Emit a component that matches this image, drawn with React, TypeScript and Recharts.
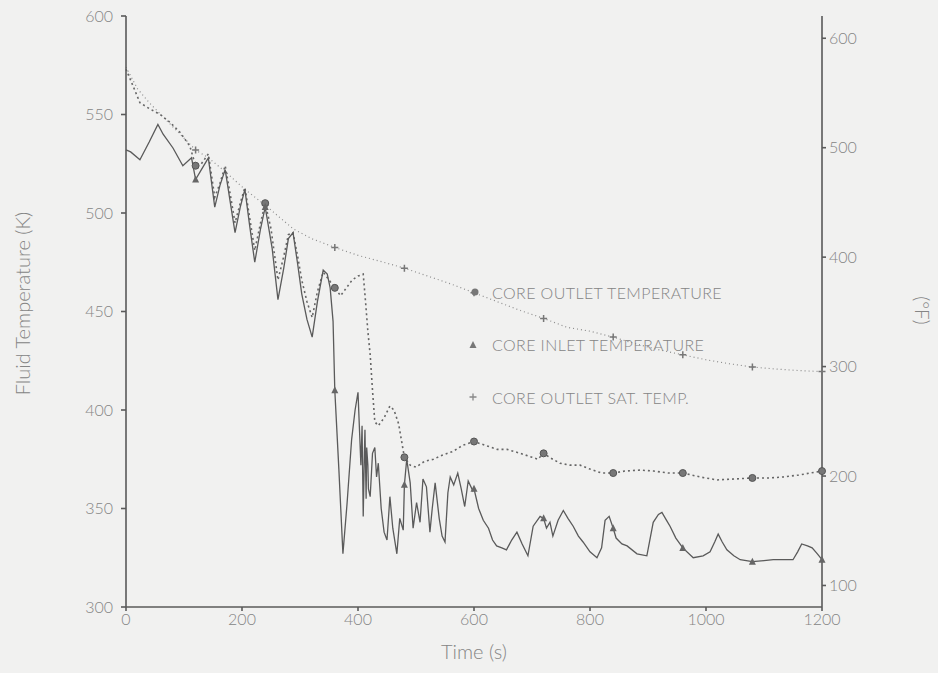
import React from 'react'
import { LineChart, Line, XAxis, YAxis } from 'recharts'

// Core inlet temperature (K) vs time (s)
const inletTime = [
  0, 8, 24, 40, 55, 64, 81, 98, 113, 120, 130, 142, 153, 162, 171, 180, 188, 197, 205, 213, 222, 232,
  240, 252, 262, 272, 280, 288, 296, 303, 312, 321, 330, 340, 347, 352, 357, 360, 367, 374, 381, 389,
  395, 400, 405, 407, 409, 411, 412, 414, 415, 417, 418, 421, 425, 429, 432, 435, 440, 445, 450, 455,
  460, 467, 472, 478, 480, 484, 490, 495, 501, 507, 512, 518, 524, 528, 533, 540, 545, 550, 555, 559,
  565, 572, 578, 584, 590, 598, 600, 608, 616, 625, 632, 639, 648, 656, 665, 674, 683, 693, 702, 714,
  720, 725, 731, 736, 745, 754, 762, 771, 780, 788, 800, 812, 820, 826, 833, 840, 845, 855, 864, 881,
  898, 909, 918, 924, 932, 938, 948, 960, 978, 995, 1007, 1015, 1021, 1028, 1036, 1048, 1059, 1080,
  1100, 1116, 1135, 1150, 1158, 1165, 1175, 1183, 1192, 1200,
]
const inletTemp = [
  532, 531, 527, 536, 545, 540, 533, 524, 528, 517, 522, 528, 503, 514, 522, 505, 490, 503, 512, 494, 475, 492,
  503, 482, 456, 472, 487, 490, 474, 459, 446, 437, 455, 471, 469, 462, 445, 410, 370, 327, 352, 385,
  400, 409, 372, 392, 346, 378, 390, 355, 381, 372, 360, 356, 378, 381, 366, 373, 350, 338, 334, 356,
  340, 327, 345, 339, 362, 375, 363, 340, 353, 343, 365, 361, 338, 350, 363, 345, 336, 333, 358, 366,
  362, 368, 360, 351, 364, 359, 360, 350, 344, 340, 334, 331, 330, 329, 334, 338, 332, 326, 341, 346,
  345, 340, 343, 336, 344, 349, 345, 341, 336, 333, 328, 325, 330, 344, 346, 340, 335, 332, 331, 327,
  326, 343, 347, 348, 344, 341, 335, 330, 325, 326, 328, 333, 337, 333, 329, 326, 324, 323,
  323.5, 324, 324, 324, 328, 332, 331, 330, 327, 324,
]

// Core outlet temperature (K)
const outletTime = [
  0, 10, 24, 40, 59, 76, 93, 110, 120, 130, 142, 153, 162, 171, 180, 188, 197, 205, 213, 222, 232, 240,
  250, 262, 272, 280, 288, 296, 303, 312, 321, 330, 340, 350, 360, 370, 380, 390, 400, 409, 413, 417,
  421, 425, 429, 435, 445, 455, 462, 470, 480, 490, 500, 515, 530, 545, 564, 580, 600, 620, 640, 657,
  680, 700, 710, 720, 730, 748, 765, 783, 800, 820, 840, 860, 886, 910, 935, 960, 990, 1019, 1050,
  1080, 1110, 1133, 1160, 1180, 1200,
]
const outletTemp = [
  573, 566, 556, 553, 550, 546, 541, 534, 524, 525, 530, 508, 515, 524, 509, 495, 505, 513, 498, 481, 495, 505,
  492, 466, 478, 489, 490, 478, 466, 455, 447, 460, 470, 466, 462, 458, 462, 466, 468, 469, 455, 440,
  428, 410, 394, 392, 396, 402, 400, 393, 376, 372, 371, 374, 375, 377, 379, 382, 384, 382, 380, 380,
  378, 376, 375, 378, 376, 373, 372, 372, 370, 368, 368, 369, 369.5, 369, 368, 368, 366, 364.5, 365,
  365.5, 365.5, 366, 367, 368, 369,
]

// Core outlet saturation temperature (K)
const satTime = [
  0, 20, 40, 60, 80, 100, 120, 142, 171, 205, 240, 288, 320, 360, 400, 438, 480, 520, 560, 600, 640,
  680, 720, 760, 800, 840, 880, 920, 960, 1000, 1040, 1080, 1120, 1160, 1200,
]
const satTemp = [
  574, 563, 556, 550, 544, 538, 532, 528, 521, 512, 504, 492, 487, 482.5, 478.5, 475.5, 472, 468, 464, 459.5, 455,
  450.5, 446.5, 442, 440, 437, 433.5, 430.5, 428, 425.5, 423.5, 421.8, 420.8, 420, 419.5,
]

const timeTicks = [0, 200, 400, 600, 800, 1000, 1200]
const kelvinTicks = [300, 350, 400, 450, 500, 550, 600]
const fahrenheitTicks = [100, 200, 300, 400, 500, 600]

const toF = (k: number) => (k - 273.15) * 1.8 + 32

const zip = (t: number[], v: number[]) => t.map((time, i) => ({ t: time, v: v[i] }))
const inletData = zip(inletTime, inletTemp)
const outletData = zip(outletTime, outletTemp)
const satData = zip(satTime, satTemp)

const INK = '#5a5a5a'
const TEXT = '#858585'
const FONT = 'Lato, "DejaVu Sans", sans-serif'

// markers only every 120 s
const isMarkTime = (t: number) => t > 0 && t % 120 === 0

const Circle = (p: any) => {
  if (!isMarkTime(p.payload?.t)) return <g key={p.key} />
  return <circle key={p.key} cx={p.cx} cy={p.cy} r={3.5} fill='#777' stroke='#555' strokeWidth={1} />
}

const Triangle = (p: any) => {
  if (!isMarkTime(p.payload?.t)) return <g key={p.key} />
  const { cx, cy } = p
  return <path key={p.key} d={`M${cx},${cy - 4}L${cx + 3.5},${cy + 3}L${cx - 3.5},${cy + 3}Z`} fill='#666' />
}

const Plus = (p: any) => {
  if (!isMarkTime(p.payload?.t)) return <g key={p.key} />
  const { cx, cy } = p
  return (
    <path key={p.key} d={`M${cx - 3.5},${cy}H${cx + 3.5}M${cx},${cy - 3.5}V${cy + 3.5}`} stroke='#777' strokeWidth={1.5} />
  )
}

const legendItems = [
  { label: 'CORE OUTLET TEMPERATURE', mark: 'circle' },
  { label: 'CORE INLET TEMPERATURE', mark: 'triangle' },
  { label: 'CORE OUTLET SAT. TEMP.', mark: 'plus' },
]

const LegendBox = () => (
  <div
    style={{
      position: 'absolute',
      left: 462,
      top: 266,
      fontFamily: FONT,
      color: TEXT,
      fontSize: 16,
      fontWeight: 300,
    }}
  >
    {legendItems.map((it) => (
      <div key={it.label} style={{ display: 'flex', alignItems: 'center', height: 52.5 }}>
        <svg width={22} height={12}>
          {it.mark === 'circle' && <circle cx={13} cy={6} r={3.5} fill='#777' />}
          {it.mark === 'triangle' && <path d='M11,2L14.5,9L7.5,9Z' fill='#777' />}
          {it.mark === 'plus' && <path d='M7.5,6H14.5M11,2.5V9.5' stroke='#888' strokeWidth={1.3} />}
        </svg>
        <span style={{ marginLeft: 8, letterSpacing: 0.4 }}>{it.label}</span>
      </div>
    ))}
  </div>
)

const tickStyle = { fill: TEXT, fontSize: 16, fontFamily: FONT, fontWeight: 300 }
const labelStyle = { fill: TEXT, fontSize: 20, fontFamily: FONT, fontWeight: 300 }

export default function App() {
  return (
    <div style={{ position: 'absolute', left: 0, top: 0, width: 938, height: 673, background: '#f1f1f0' }}>
      <LineChart
        width={938}
        height={673}
        margin={{ top: 16, right: 0, bottom: 0, left: 0 }}
      >
        <XAxis
          type='number'
          dataKey='t'
          domain={[0, 1200]}
          ticks={timeTicks}
          height={66}
          stroke={INK}
          strokeWidth={1.6}
          tickSize={4}
          tickMargin={3}
          tick={tickStyle}
          label={{ value: 'Time (s)', position: 'insideBottom', offset: 14, ...labelStyle }}
        />
        <YAxis
          yAxisId='K'
          type='number'
          domain={[300, 600]}
          ticks={kelvinTicks}
          width={126}
          stroke={INK}
          strokeWidth={1.6}
          tickSize={5}
          tickMargin={8}
          tick={tickStyle}
          label={{ value: 'Fluid Temperature (K)', angle: -90, position: 'center', dx: -40, dy: -8, ...labelStyle }}
        />
        <YAxis
          yAxisId='F'
          orientation='right'
          type='number'
          domain={[toF(300), toF(600)]}
          ticks={fahrenheitTicks}
          allowDataOverflow
          width={116}
          stroke={INK}
          strokeWidth={1.6}
          tickSize={4}
          tickMargin={3}
          tick={tickStyle}
          label={{ value: '(°F)', angle: 90, position: 'center', dx: 42, dy: -1, ...labelStyle, fontSize: 19 }}
        />
        <Line
          yAxisId='K'
          data={satData}
          dataKey='v'
          name='CORE OUTLET SAT. TEMP.'
          stroke='#8c8c8c'
          strokeWidth={1.2}
          strokeDasharray='1 3'
          dot={Plus}
          activeDot={false}
          isAnimationActive={false}
        />
        <Line
          yAxisId='K'
          data={outletData}
          dataKey='v'
          name='CORE OUTLET TEMPERATURE'
          stroke='#666'
          strokeWidth={1.6}
          strokeDasharray='2 3'
          dot={Circle}
          activeDot={false}
          isAnimationActive={false}
        />
        <Line
          yAxisId='K'
          data={inletData}
          dataKey='v'
          name='CORE INLET TEMPERATURE'
          stroke={INK}
          strokeWidth={1.3}
          dot={Triangle}
          activeDot={false}
          isAnimationActive={false}
        />
      </LineChart>
      <LegendBox />
    </div>
  )
}
